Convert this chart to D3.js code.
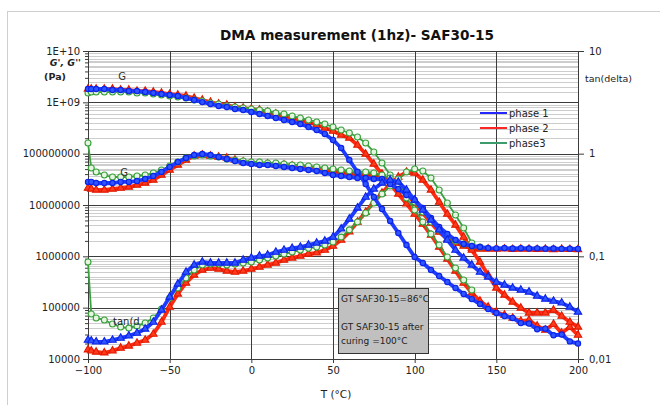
<!DOCTYPE html>
<html>
<head>
<meta charset="utf-8">
<script src="https://cdn.jsdelivr.net/npm/d3@7"></script>
<style>
  body { margin: 0; background: #fff; }
  svg { display: block; font-family: "DejaVu Sans", sans-serif; }
</style>
</head>
<body>
<svg id="chart" width="660" height="405"></svg>
<script>
// temperature grid (°C)
const temperature = [-100,-98,-95,-90,-85,-80,-75,-70,-65,-60,-55,-50,-45,-40,-35,-30,-25,-20,-15,-10,-5,0,
  5,10,15,20,25,30,35,40,45,50,55,60,65,70,75,80,85,90,95,100,105,110,115,120,125,130,135,140,145,150,
  155,160,165,170,175,180,185,190,195,200];

// phase 1 (blue)
const gStorage1 = [1.82e9,1.82e9,1.82e9,1.82e9,1.74e9,1.74e9,1.66e9,1.66e9,1.59e9,1.52e9,1.45e9,1.39e9,1.33e9,1.21e9,1.11e9,1.01e9,9.28e8,8.48e8,8.11e8,7.41e8,7.09e8,6.48e8,
  5.93e8,5.42e8,4.95e8,4.53e8,4.14e8,3.78e8,3.30e8,2.89e8,2.42e8,1.85e8,1.29e8,7.52e7,4.40e7,2.56e7,1.43e7,8.36e6,4.88e6,2.85e6,1.66e6,9.70e5,
  7.41e5,5.41e5,4.14e5,3.16e5,2.42e5,1.85e5,1.47e5,1.18e5,9.41e4,7.87e4,6.87e4,6.3e4,5.0e4,4.9e4,3.8e4,3.9e4,2.9e4,3.0e4,2.2e4,2.0e4];
const gLoss1 = [2.81e7,2.81e7,2.68e7,2.68e7,2.68e7,2.81e7,2.81e7,2.93e7,3.21e7,3.67e7,4.40e7,5.50e7,6.88e7,8.23e7,9.42e7,9.85e7,9.42e7,8.61e7,7.87e7,7.19e7,6.58e7,6.29e7,
  6.01e7,6.01e7,5.75e7,5.50e7,5.26e7,5.03e7,4.81e7,4.60e7,4.20e7,3.84e7,3.67e7,3.51e7,3.36e7,3.36e7,3.21e7,3.21e7,2.56e7,2.05e7,1.57e7,1.25e7,
  8.74e6,5.58e6,3.73e6,2.72e6,2.08e6,1.74e6,1.59e6,1.52e6,1.45e6,1.43e6,1.45e6,1.42e6,1.44e6,1.42e6,1.43e6,1.41e6,1.42e6,1.40e6,1.41e6,1.40e6];
const tanDelta1 = [0.0153,0.0150,0.0147,0.0147,0.0153,0.0160,0.0168,0.0179,0.0196,0.0229,0.0300,0.0402,0.0538,0.0703,0.0824,0.0881,0.0861,0.0861,0.0861,0.0861,0.0921,0.0964,
  0.1007,0.1030,0.110,0.115,0.120,0.123,0.129,0.135,0.141,0.154,0.185,0.231,0.296,0.378,0.453,0.518,0.554,0.530,0.443,0.354,
  0.283,0.226,0.181,0.144,0.115,0.0964,0.0824,0.0703,0.0630,0.0562,0.0526,0.0492,0.0470,0.0450,0.0411,0.0384,0.0367,0.0352,0.0321,0.0287];

// phase 2 (red)
const gStorage2 = [1.82e9,1.82e9,1.82e9,1.82e9,1.82e9,1.74e9,1.74e9,1.66e9,1.66e9,1.59e9,1.52e9,1.45e9,1.39e9,1.33e9,1.21e9,1.11e9,1.01e9,9.28e8,8.87e8,8.11e8,7.76e8,7.41e8,
  7.09e8,6.48e8,5.93e8,5.42e8,4.95e8,4.53e8,4.14e8,3.61e8,3.16e8,2.76e8,2.31e8,2.02e8,1.47e8,9.85e7,6.29e7,4.02e7,2.56e7,1.64e7,1.05e7,6.67e6,
  4.26e6,2.60e6,1.52e6,8.87e5,5.18e5,3.02e5,1.93e5,1.35e5,1.03e5,8.23e4,7.19e4,6.28e4,5.49e4,5.74e4,4.39e4,3.67e4,4.80e4,3.21e4,4.20e4,2.93e4];
const gLoss2 = [2.14e7,2.05e7,1.96e7,1.96e7,2.05e7,2.14e7,2.24e7,2.45e7,2.68e7,3.07e7,3.84e7,4.81e7,6.01e7,7.52e7,9.0e7,9.42e7,9.0e7,8.61e7,8.23e7,7.52e7,6.88e7,6.58e7,
  6.29e7,6.29e7,6.01e7,6.01e7,5.75e7,5.50e7,5.26e7,5.03e7,4.81e7,4.60e7,4.40e7,4.20e7,4.02e7,4.02e7,3.84e7,3.67e7,3.07e7,2.34e7,1.64e7,1.09e7,
  6.98e6,4.46e6,2.98e6,2.17e6,1.82e6,1.59e6,1.45e6,1.39e6,1.39e6,1.38e6,1.40e6,1.37e6,1.39e6,1.38e6,1.37e6,1.38e6,1.36e6,1.38e6,1.37e6,1.36e6];
const tanDelta2 = [0.0123,0.0120,0.0117,0.0115,0.0120,0.0128,0.0134,0.0143,0.0153,0.0175,0.0229,0.0321,0.0430,0.0550,0.0658,0.0736,0.0769,0.0753,0.0720,0.0703,0.0720,0.0753,
  0.0787,0.0824,0.0861,0.0921,0.0964,0.1007,0.1054,0.108,0.115,0.126,0.144,0.173,0.216,0.270,0.338,0.414,0.507,0.593,0.662,0.648,
  0.554,0.443,0.338,0.258,0.202,0.154,0.115,0.0881,0.0658,0.0492,0.0420,0.0359,0.0314,0.0281,0.0281,0.0281,0.0300,0.0262,0.0229,0.0205];

// phase 3 (green)
const gStorage3 = [1.52e9,1.59e9,1.59e9,1.59e9,1.59e9,1.59e9,1.59e9,1.52e9,1.52e9,1.45e9,1.39e9,1.33e9,1.27e9,1.21e9,1.11e9,1.06e9,9.70e8,9.28e8,8.48e8,8.11e8,7.76e8,7.41e8,
  7.09e8,6.78e8,6.19e8,5.93e8,5.42e8,4.95e8,4.53e8,4.14e8,3.78e8,3.30e8,2.89e8,2.53e8,2.11e8,1.61e8,1.08e8,6.58e7,3.84e7,2.24e7,1.37e7,7.98e6,
  4.67e6,2.72e6,1.66e6,9.70e5,5.92e5,3.46e5,2.21e5,null,null,null,null,null,null,null,null,null,null,null,null,null];
const gLoss3 = [1.61e8,5.26e7,4.40e7,3.84e7,3.51e7,3.51e7,3.51e7,3.67e7,3.84e7,4.20e7,4.81e7,5.75e7,6.88e7,8.23e7,9.0e7,9.42e7,9.0e7,8.61e7,7.87e7,7.52e7,7.19e7,6.88e7,
  6.88e7,6.58e7,6.58e7,6.29e7,6.01e7,6.01e7,5.75e7,5.50e7,5.26e7,5.03e7,4.81e7,4.60e7,4.40e7,4.40e7,4.20e7,3.84e7,3.36e7,2.45e7,1.71e7,1.14e7,
  7.30e6,4.67e6,3.26e6,2.38e6,1.99e6,1.74e6,1.59e6,1.52e6,null,null,null,null,null,null,null,null,null,null,null,null];
const tanDelta3 = [0.0881,0.0274,0.0251,0.0240,0.0219,0.0205,0.0200,0.0210,0.0224,0.0251,0.0307,0.0393,0.0492,0.0615,0.0736,0.0824,0.0842,0.0842,0.0824,0.0842,0.0861,0.0881,
  0.0921,0.0964,0.1007,0.1054,0.110,0.115,0.120,0.123,0.129,0.138,0.154,0.181,0.216,0.264,0.331,0.405,0.484,0.566,0.662,0.710,
  0.678,0.579,0.443,0.331,0.253,0.189,0.135,null,null,null,null,null,null,null,null,null,null,null,null,null];

// axis ticks
const xTicks = [-100,-50,0,50,100,150,200];
const leftTicks = [1e4,1e5,1e6,1e7,1e8,1e9,1e10];
const leftTickLabels = ['10000','100000','1000000','10000000','100000000','1E+09','1E+10'];
const rightTicks = [0.01,0.1,1,10];
const rightTickLabels = ['0,01','0,1','1','10'];
const legendNames = ['phase 1','phase 2','phase3'];

const svg = d3.select('#chart');
const plotLeft = 88, plotRight = 578, plotTop = 51, plotBottom = 359;

const x = d3.scaleLinear().domain([-100,200]).range([plotLeft,plotRight]);
const yL = d3.scaleLog().domain([1e4,1e10]).range([plotBottom,plotTop]);
const yR = d3.scaleLog().domain([0.01,10]).range([plotBottom,plotTop]);

// outer frame
svg.append('rect').attr('x',7.5).attr('y',11.5).attr('width',700).attr('height',500)
  .attr('fill','#fff').attr('stroke','#cfcfcf');

// title
svg.append('text').attr('x',357).attr('y',40).attr('text-anchor','middle')
  .attr('font-size',14.5).attr('font-weight','bold').attr('fill','#111')
  .attr('textLength',274).attr('lengthAdjust','spacingAndGlyphs')
  .text('DMA measurement (1hz)- SAF30-15');

// minor grid lines (both log axes)
const grid = svg.append('g').attr('shape-rendering','crispEdges');
const minorL = [], minorR = [];
for (let d = 4; d < 10; d++) for (let k = 2; k <= 9; k++) minorL.push(k * Math.pow(10,d));
for (let d = -2; d < 1; d++) for (let k = 2; k <= 9; k++) minorR.push(k * Math.pow(10,d));
grid.selectAll('.ml').data(minorL).join('line')
  .attr('x1',plotLeft).attr('x2',plotRight).attr('y1',d => Math.round(yL(d))+0.5).attr('y2',d => Math.round(yL(d))+0.5)
  .attr('stroke','#cdcdcd');
grid.selectAll('.mr').data(minorR).join('line')
  .attr('x1',plotLeft).attr('x2',plotRight).attr('y1',d => Math.round(yR(d))+0.5).attr('y2',d => Math.round(yR(d))+0.5)
  .attr('stroke','#cdcdcd');
// major grid
grid.selectAll('.gh').data(leftTicks).join('line')
  .attr('x1',plotLeft).attr('x2',plotRight).attr('y1',d => Math.round(yL(d))+0.5).attr('y2',d => Math.round(yL(d))+0.5)
  .attr('stroke','#3c3c3c');
grid.selectAll('.gv').data(xTicks).join('line')
  .attr('y1',plotTop).attr('y2',plotBottom).attr('x1',d => Math.round(x(d))+0.5).attr('x2',d => Math.round(x(d))+0.5)
  .attr('stroke','#3c3c3c');

// axes
const axisStyle = g => {
  g.selectAll('path').attr('stroke','#3c3c3c');
  g.selectAll('line').attr('stroke','#3c3c3c');
  g.selectAll('text').attr('font-size',10).attr('fill','#222').attr('font-family','"DejaVu Sans", sans-serif');
};
svg.append('g').attr('transform',`translate(${plotLeft},0)`)
  .call(d3.axisLeft(yL).tickValues(minorL).tickSize(3).tickFormat('')).call(g => g.select('.domain').remove())
  .call(axisStyle);
svg.append('g').attr('transform',`translate(${plotLeft},0)`)
  .call(d3.axisLeft(yL).tickValues(leftTicks).tickSize(5).tickPadding(3).tickSizeOuter(0)
    .tickFormat((d,i) => leftTickLabels[i]))
  .call(axisStyle);
svg.append('g').attr('transform',`translate(${plotRight},0)`)
  .call(d3.axisRight(yR).tickValues(rightTicks).tickSize(6).tickPadding(5).tickSizeOuter(0)
    .tickFormat((d,i) => rightTickLabels[i]))
  .call(axisStyle);
svg.append('g').attr('transform',`translate(0,${plotBottom})`)
  .call(d3.axisBottom(x).tickValues(xTicks).tickSize(4).tickPadding(4).tickSizeOuter(0))
  .call(axisStyle);

// axis titles
svg.append('text').attr('x',81).attr('y',66).attr('text-anchor','end').attr('font-size',9.5)
  .attr('font-style','italic').attr('font-weight','bold').attr('fill','#222').text("G', G''");
svg.append('text').attr('x',55).attr('y',80).attr('text-anchor','middle').attr('font-size',9.5)
  .attr('font-weight','bold').attr('fill','#222').text('(Pa)');
svg.append('text').attr('x',585).attr('y',82).attr('font-size',9.5).attr('fill','#222').text('tan(delta)');
svg.append('text').attr('x',336).attr('y',398).attr('text-anchor','middle').attr('font-size',10.5)
  .attr('fill','#222').text('T (°C)');

// series
const phases = [
  { name: 'phase 2', line: '#ff2a10', fill: '#ff3a1a', stroke: '#e01800', hollow: false,
    sets: [[gStorage2,'L',d3.symbolTriangle],[gLoss2,'L',d3.symbolTriangle],[tanDelta2,'R',d3.symbolTriangle]] },
  { name: 'phase3', line: '#3aa040', fill: '#e6f5e0', stroke: '#36a03a', hollow: true,
    sets: [[gStorage3,'L',d3.symbolCircle],[gLoss3,'L',d3.symbolCircle],[tanDelta3,'R',d3.symbolCircle]] },
  { name: 'phase 1', line: '#1e3cff', fill: '#2f55ff', stroke: '#0c22e8', hollow: false,
    sets: [[gStorage1,'L',d3.symbolCircle],[gLoss1,'L',d3.symbolCircle],[tanDelta1,'R',d3.symbolTriangle]] }
];
const plot = svg.append('g');
phases.forEach(p => {
  p.sets.forEach(([vals, side, shape]) => {
    const y = side === 'L' ? yL : yR;
    const pts = temperature.map((t,i) => [t, vals[i]]).filter(d => d[1] != null);
    const line = d3.line().x(d => x(d[0])).y(d => y(d[1]));
    plot.append('path').attr('d', line(pts)).attr('fill','none')
      .attr('stroke', p.line).attr('stroke-width', p.hollow ? 1.8 : 3.8).attr('stroke-linejoin','round');
    plot.selectAll(null).data(pts).join('path')
      .attr('transform', d => `translate(${x(d[0])},${y(d[1])})`)
      .attr('d', d3.symbol().type(shape).size(p.hollow ? 28 : (shape === d3.symbolCircle ? 22 : 24)))
      .attr('fill', p.fill).attr('stroke', p.stroke).attr('stroke-width', 1.1);
  });
});

// curve annotations
svg.append('text').attr('x',122).attr('y',80).attr('text-anchor','middle').attr('font-size',10).attr('fill','#333').text('G');
svg.append('text').attr('x',124).attr('y',176).attr('text-anchor','middle').attr('font-size',10).attr('fill','#333').text('G');
svg.append('text').attr('x',113).attr('y',325).attr('font-size',10).attr('fill','#222').text('tan(d');

// legend
const legendColors = ['#2626ff','#ff2626','#3c9c6c'];
const legend = svg.append('g').attr('transform','translate(480,113)');
legendNames.forEach((n,i) => {
  legend.append('line').attr('x1',0).attr('x2',27).attr('y1',i*15).attr('y2',i*15)
    .attr('stroke',legendColors[i]).attr('stroke-width',2);
  legend.append('text').attr('x',29).attr('y',i*15+4).attr('font-size',10).attr('fill','#222').text(n);
});

// text box
const box = svg.append('g');
box.append('rect').attr('x',338.5).attr('y',288.5).attr('width',90).attr('height',65)
  .attr('fill','#c0c0c0').attr('stroke','#333');
[['GT SAF30-15=86°C',302],['GT SAF30-15 after',330],['curing =100°C',344]].forEach(([t,yy]) => {
  box.append('text').attr('x',341).attr('y',yy).attr('font-size',9).attr('fill','#222').text(t);
});
</script>
</body>
</html>
